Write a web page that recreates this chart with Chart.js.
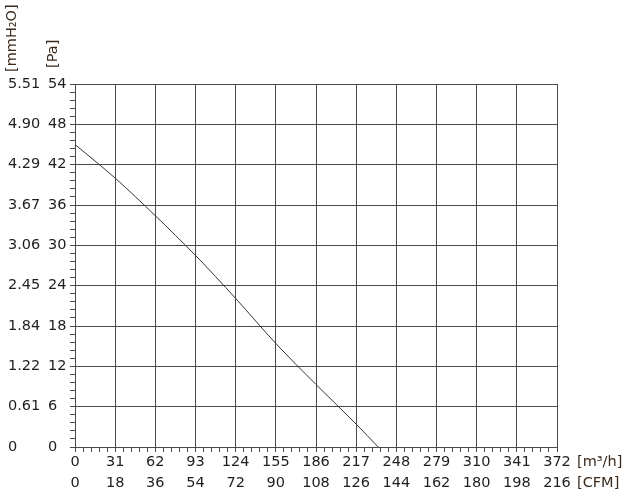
<!DOCTYPE html>
<html>
<head>
<meta charset="utf-8">
<script src="https://cdn.jsdelivr.net/npm/chart.js@4/dist/chart.umd.min.js"></script>
<style>
  html, body { margin: 0; padding: 0; background: #fff; }
  #wrap { width: 630px; height: 494px; position: relative; }
</style>
</head>
<body>
<div id="wrap"><canvas id="chart"></canvas></div>
<script>
// --- data ---
const flow = [0, 31, 62, 93, 124, 155, 186, 217, 234];            // m3/h
const pressure = [45.0, 40.0, 34.4, 28.5, 22.1, 15.4, 9.3, 3.4, 0]; // Pa

// --- tick labels ---
const flowTicks = [0, 31, 62, 93, 124, 155, 186, 217, 248, 279, 310, 341, 372];
const cfmTicks = [0, 18, 36, 54, 72, 90, 108, 126, 144, 162, 180, 198, 216];
const paTicks = [0, 6, 12, 18, 24, 30, 36, 42, 48, 54];
const mmTicks = ['0', '0.61', '1.22', '1.84', '2.45', '3.06', '3.67', '4.29', '4.90', '5.51'];

const FONT = "'DejaVu Sans', Verdana, sans-serif";
const FSIZE = 14.5;
const GRID = '#4a4a4a';
const TEXT = '#1e1e1e';
const UNIT = '#3b2a1c';

// major ticks plus 4 minor ticks in between
const withMinor = (majors) => {
    const out = [];
    majors.forEach((v, i) => {
        out.push({ value: v, major: true });
        if (i < majors.length - 1) {
            const step = (majors[i + 1] - v) / 5;
            for (let k = 1; k < 5; k++) out.push({ value: v + k * step, major: false });
        }
    });
    return out;
};

const unitLabels = {
    id: 'unitLabels',
    afterDraw(chart) {
        const ctx = chart.ctx;
        const x = chart.scales.x, cfm = chart.scales.cfm;
        const pa = chart.scales.y, mm = chart.scales.mm;
        const area = chart.chartArea;
        ctx.save();
        ctx.fillStyle = UNIT;
        ctx.font = FSIZE + 'px ' + FONT;
        ctx.textBaseline = 'middle';
        ctx.textAlign = 'left';
        ctx.fillText('[m³/h]', area.right + 20, x.top + 15.5);
        ctx.fillText('[CFM]', area.right + 20, cfm.top + 16);
        // rotated axis titles above the y axes
        ctx.translate(mm.left + 4, area.top - 12);
        ctx.rotate(-Math.PI / 2);
        ctx.fillText('[mmH₂O]', 0, 0);
        ctx.restore();
        ctx.save();
        ctx.fillStyle = UNIT;
        ctx.font = FSIZE + 'px ' + FONT;
        ctx.textBaseline = 'middle';
        ctx.translate(pa.left + 5, area.top - 16);
        ctx.rotate(-Math.PI / 2);
        ctx.fillText('[Pa]', 0, 0);
        ctx.restore();
    }
};

new Chart(document.getElementById('chart'), {
    type: 'line',
    data: {
        datasets: [{
            data: flow.map((f, i) => ({ x: f, y: pressure[i] })),
            borderColor: '#333',
            borderWidth: 1,
            pointRadius: 0,
            cubicInterpolationMode: 'monotone',
            fill: false
        }]
    },
    options: {
        responsive: true,
        maintainAspectRatio: false,
        animation: false,
        layout: { padding: { top: 84, right: 73, left: 8, bottom: 0 } },
        plugins: { legend: { display: false }, tooltip: { enabled: false } },
        scales: {
            x: {
                type: 'linear', position: 'bottom', weight: 0,
                min: 0, max: 372,
                afterBuildTicks: (s) => { s.ticks = withMinor(flowTicks); },
                afterFit: (s) => { s.height = 20; },
                grid: {
                    color: (c) => (c.tick && c.tick.major ? GRID : 'rgba(0,0,0,0)'),
                    tickColor: GRID, tickLength: 5, lineWidth: 1
                },
                border: { color: GRID },
                ticks: {
                    autoSkip: false, maxRotation: 0, padding: 2,
                    color: TEXT, font: { family: FONT, size: FSIZE },
                    callback: (v, i, ticks) => (ticks[i].major ? String(v) : '')
                }
            },
            cfm: {
                type: 'linear', position: 'bottom', weight: 1,
                min: 0, max: 372,
                afterBuildTicks: (s) => { s.ticks = flowTicks.map(v => ({ value: v })); },
                afterFit: (s) => { s.height = 27; },
                grid: { display: false, drawTicks: false },
                border: { display: false },
                ticks: {
                    autoSkip: false, maxRotation: 0, padding: 8,
                    color: TEXT, font: { family: FONT, size: FSIZE },
                    callback: (v, i) => String(cfmTicks[i])
                }
            },
            y: {
                type: 'linear', position: 'left', weight: 0,
                min: 0, max: 54,
                afterBuildTicks: (s) => { s.ticks = withMinor(paTicks); },
                afterFit: (s) => { s.width = 27; },
                grid: {
                    color: (c) => (c.tick && c.tick.major ? GRID : 'rgba(0,0,0,0)'),
                    tickColor: GRID, tickLength: 5, lineWidth: 1
                },
                border: { color: GRID },
                ticks: {
                    autoSkip: false, crossAlign: 'far', padding: 3,
                    color: TEXT, font: { family: FONT, size: FSIZE },
                    callback: (v, i, ticks) => (ticks[i].major ? String(v) : '')
                }
            },
            mm: {
                type: 'linear', position: 'left', weight: 1,
                min: 0, max: 54,
                afterBuildTicks: (s) => { s.ticks = paTicks.map(v => ({ value: v })); },
                afterFit: (s) => { s.width = 40; },
                grid: { display: false, drawTicks: false },
                border: { display: false },
                ticks: {
                    autoSkip: false, crossAlign: 'far', padding: 0,
                    color: TEXT, font: { family: FONT, size: FSIZE },
                    callback: (v, i) => mmTicks[i]
                }
            }
        }
    },
    plugins: [unitLabels]
});
</script>
</body>
</html>
